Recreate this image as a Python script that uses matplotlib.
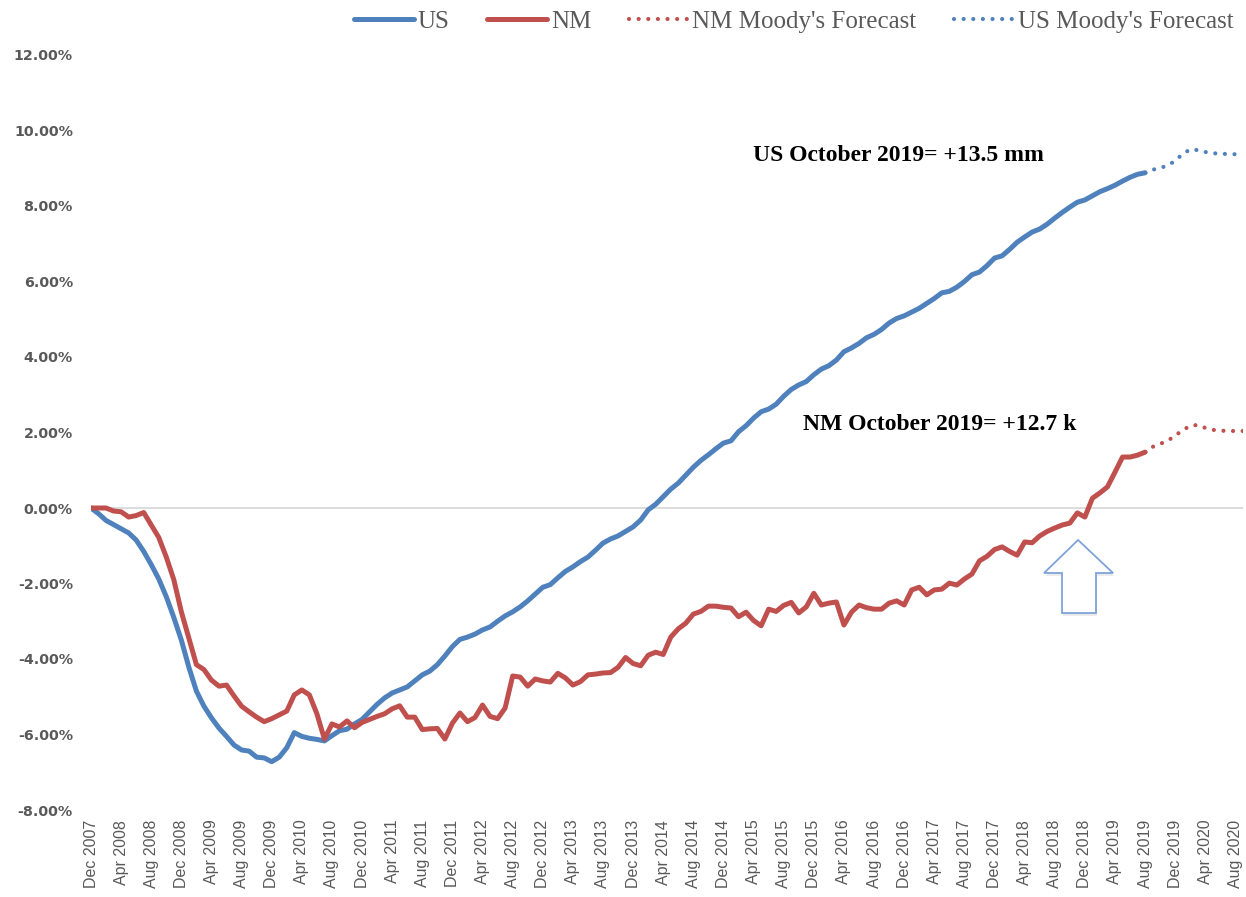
import matplotlib
matplotlib.use("Agg")
import matplotlib.pyplot as plt
from matplotlib.patches import Polygon
from matplotlib.lines import Line2D
import pandas as pd

# Monthly categories Dec 2007 .. Sep 2020
months = [d.strftime("%b %Y") for d in pd.date_range("2007-12-01", "2020-09-01", freq="MS")]

# Percent change in employment since Dec 2007 (actual, Dec 2007 .. Aug 2019)
us_actual = [
    0.00, -0.15, -0.33, -0.44, -0.55, -0.66, -0.85, -1.15, -1.50, -1.88,
    -2.35, -2.90, -3.50, -4.22, -4.85, -5.25, -5.56, -5.83, -6.05, -6.28,
    -6.41, -6.44, -6.60, -6.62, -6.72, -6.60, -6.35, -5.95, -6.05, -6.10,
    -6.13, -6.17, -6.03, -5.90, -5.86, -5.72, -5.60, -5.40, -5.20, -5.03,
    -4.90, -4.82, -4.74, -4.58, -4.42, -4.32, -4.15, -3.92, -3.67, -3.48,
    -3.42, -3.34, -3.23, -3.15, -3.00, -2.86, -2.75, -2.62, -2.46, -2.28,
    -2.10, -2.03, -1.85, -1.68, -1.56, -1.42, -1.30, -1.12, -0.93, -0.82,
    -0.74, -0.62, -0.50, -0.32, -0.05, 0.10, 0.30, 0.50, 0.66, 0.87,
    1.08, 1.26, 1.41, 1.57, 1.72, 1.78, 2.02, 2.18, 2.38, 2.55,
    2.62, 2.75, 2.96, 3.14, 3.26, 3.35, 3.53, 3.68, 3.77, 3.92,
    4.14, 4.24, 4.36, 4.51, 4.60, 4.73, 4.90, 5.02, 5.09, 5.19,
    5.29, 5.42, 5.55, 5.70, 5.74, 5.85, 6.00, 6.18, 6.25, 6.42,
    6.62, 6.68, 6.85, 7.04, 7.18, 7.31, 7.39, 7.52, 7.68, 7.83,
    7.97, 8.10, 8.16, 8.27, 8.38, 8.46, 8.55, 8.66, 8.76, 8.84,
    8.88,
]
nm_actual = [
    0.00, 0.00, 0.00, -0.08, -0.10, -0.24, -0.20, -0.12, -0.45, -0.78,
    -1.30, -1.90, -2.75, -3.45, -4.15, -4.28, -4.56, -4.72, -4.69, -4.98,
    -5.25, -5.40, -5.54, -5.66, -5.58, -5.48, -5.38, -4.95, -4.82, -4.95,
    -5.45, -6.12, -5.72, -5.80, -5.64, -5.82, -5.68, -5.60, -5.52, -5.45,
    -5.32, -5.24, -5.54, -5.54, -5.87, -5.85, -5.84, -6.12, -5.70, -5.43,
    -5.66, -5.55, -5.22, -5.52, -5.58, -5.30, -4.45, -4.48, -4.72, -4.53,
    -4.58, -4.61, -4.38, -4.50, -4.69, -4.60, -4.42, -4.40, -4.37, -4.36,
    -4.22, -3.96, -4.12, -4.18, -3.90, -3.82, -3.88, -3.42, -3.20, -3.05,
    -2.81, -2.74, -2.60, -2.60, -2.63, -2.65, -2.88, -2.76, -2.98, -3.12,
    -2.68, -2.74, -2.58, -2.50, -2.78, -2.62, -2.26, -2.57, -2.52, -2.49,
    -3.10, -2.76, -2.57, -2.64, -2.68, -2.68, -2.52, -2.46, -2.57, -2.17,
    -2.10, -2.30, -2.17, -2.15, -1.99, -2.04, -1.88, -1.75, -1.40, -1.28,
    -1.10, -1.03, -1.15, -1.25, -0.90, -0.92, -0.74, -0.62, -0.53, -0.45,
    -0.40, -0.13, -0.24, 0.26, 0.40, 0.56, 0.95, 1.35, 1.35, 1.40,
    1.48,
]
# Moody's forecast (Aug 2019 .. Sep 2020)
us_forecast = [8.88, 8.96, 9.01, 9.07, 9.20, 9.38, 9.50, 9.48, 9.43, 9.40, 9.38, 9.38, 9.37, 9.36]
nm_forecast = [1.48, 1.62, 1.70, 1.78, 1.92, 2.06, 2.18, 2.20, 2.12, 2.07, 2.05, 2.04, 2.04, 2.04]

US_BLUE = "#4F81BD"
NM_RED = "#C0504D"
GRAY_TXT = "#595959"

fig = plt.figure(figsize=(12.46, 8.97), dpi=100)
ax = fig.add_axes([91 / 1246, 1 - 810 / 897, 1152 / 1246, 755 / 897])

n_act = len(us_actual)
x_act = list(range(n_act))
x_fc = list(range(n_act - 1, n_act - 1 + len(us_forecast)))

ax.axhline(0, color="#D9D9D9", lw=1.3, zorder=1)

ax.plot(x_act, us_actual, color=US_BLUE, lw=3.6, solid_joinstyle="round",
        solid_capstyle="round", zorder=3)
ax.plot(x_act, nm_actual, color=NM_RED, lw=3.6, solid_joinstyle="round",
        solid_capstyle="round", zorder=3)
dot_style = (0, (0.01, 2.3))
ax.plot(x_fc, nm_forecast, color=NM_RED, lw=3.0, ls=dot_style,
        dash_capstyle="round", zorder=3)
ax.plot(x_fc, us_forecast, color=US_BLUE, lw=3.0, ls=dot_style,
        dash_capstyle="round", zorder=3)

ax.set_xlim(0, len(months) - 1)
ax.set_ylim(-8, 12)
yt = list(range(-8, 13, 2))
ax.set_yticks(yt)
ax.set_yticklabels([f"{v:.2f}%" for v in yt], fontsize=10.3, fontweight="bold",
                   color=GRAY_TXT, family="DejaVu Sans")
xt = list(range(0, len(months), 4))
ax.set_xticks(xt)
ax.set_xticklabels([months[i] for i in xt], rotation=90, fontsize=11.5,
                   color=GRAY_TXT, family="Liberation Sans")
ax.tick_params(axis="both", length=0)
ax.tick_params(axis="y", pad=13)
ax.tick_params(axis="x", pad=7)
for s in ax.spines.values():
    s.set_visible(False)

ax.text(87.9, 9.35, "US October 2019= +13.5 mm", family="Liberation Serif",
        fontweight="bold", fontsize=17, color="black", va="center", ha="left")
ax.text(94.5, 2.2, "NM October 2019= +12.7 k", family="Liberation Serif",
        fontweight="bold", fontsize=17, color="black", va="center", ha="left")

# hollow up arrow
arrow_pts = [(0.8568, 0.3576), (0.8872, 0.3139), (0.8724, 0.3139), (0.8724, 0.2609),
             (0.8429, 0.2609), (0.8429, 0.3139), (0.8273, 0.3139)]
shadow_pts = [(px + 0.001, py - 0.004) for px, py in arrow_pts]
ax.add_patch(Polygon(shadow_pts, closed=True, transform=ax.transAxes,
                     facecolor="#000000", edgecolor="none", alpha=0.08, zorder=4))
ax.add_patch(Polygon(arrow_pts, closed=True, transform=ax.transAxes,
                     facecolor="white", edgecolor="#7FA3D8", lw=1.3, zorder=5))

handles = [
    Line2D([], [], color=US_BLUE, lw=3.6, solid_capstyle="round"),
    Line2D([], [], color=NM_RED, lw=3.6, solid_capstyle="round"),
    Line2D([], [], color=NM_RED, lw=3.0, ls=dot_style, dash_capstyle="round"),
    Line2D([], [], color=US_BLUE, lw=3.0, ls=dot_style, dash_capstyle="round"),
]
labels = ["US", "NM", "NM Moody's Forecast", "US Moody's Forecast"]
leg = fig.legend(handles, labels, ncol=4, loc="center", bbox_to_anchor=(0.637, 0.976),
                 frameon=False, prop={"family": "Liberation Serif", "size": 18},
                 handlelength=2.4, handletextpad=0.15, columnspacing=1.5,
                 borderaxespad=0, borderpad=0)
for t in leg.get_texts():
    t.set_color(GRAY_TXT)

fig.savefig("out.png", dpi=100)
